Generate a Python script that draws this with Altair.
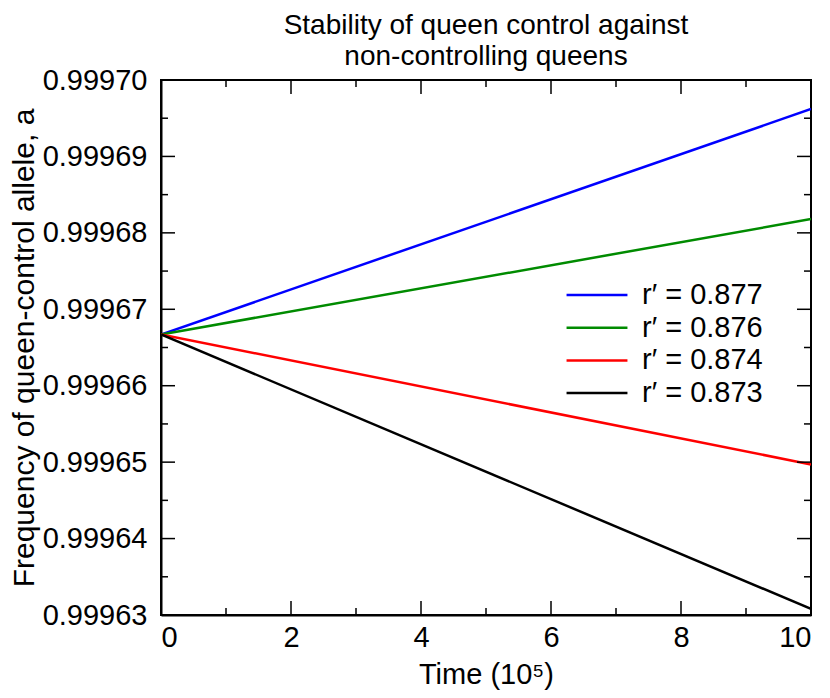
import altair as alt
import pandas as pd

# ---- data ----
times = [0, 10]
series_names = ["r′ = 0.877", "r′ = 0.876", "r′ = 0.874", "r′ = 0.873"]
series_colors = ["#0000ff", "#008b00", "#ff0000", "#000000"]
r877 = [0.9996667, 0.9996962]
r876 = [0.9996667, 0.9996818]
r874 = [0.9996667, 0.9996497]
r873 = [0.9996667, 0.9996308]

y_major = [0.99963, 0.99964, 0.99965, 0.99966, 0.99967, 0.99968, 0.99969, 0.99970]
y_minor = [0.999635, 0.999645, 0.999655, 0.999665, 0.999675, 0.999685, 0.999695]
x_major = [0, 2, 4, 6, 8, 10]
x_minor = [1, 3, 5, 7, 9]

rows = []
for name, vals in zip(series_names, [r877, r876, r874, r873]):
    for t, v in zip(times, vals):
        rows.append({"t": t, "a": v, "series": name})
df = pd.DataFrame(rows)

W, H = 650, 535
FONT = "Liberation Sans"

xscale = alt.Scale(domain=[0, 10], nice=False, zero=False)
yscale = alt.Scale(domain=[0.99963, 0.99970], nice=False, zero=False)

lines = alt.Chart(df).mark_line(strokeWidth=2.5, clip=True).encode(
    x=alt.X("t:Q", scale=xscale,
            axis=alt.Axis(values=x_major, format="d", title="Time (10⁵)",
                          labelPadding=8, titlePadding=8, titleFontSize=29)),
    y=alt.Y("a:Q", scale=yscale,
            axis=alt.Axis(values=y_major, format=".5f",
                          title="Frequency of queen-control allele, a",
                          labelPadding=14, titlePadding=3)),
    color=alt.Color("series:N",
                    scale=alt.Scale(domain=series_names, range=series_colors),
                    sort=series_names,
                    legend=alt.Legend(title=None, orient="none", legendX=420, legendY=199,
                                      symbolType="M-2.1,0H2.1", symbolSize=841,
                                      symbolStrokeWidth=2.5, labelOffset=29,
                                      labelFontSize=29, labelFont=FONT,
                                      labelColor="black", rowPadding=1.7, padding=0)),
)

ymaj_df = pd.DataFrame({"v": y_major})
ymin_df = pd.DataFrame({"v": y_minor})
xmaj_df = pd.DataFrame({"v": x_major})
xmin_df = pd.DataFrame({"v": x_minor})

def yticks(d, length):
    left = alt.Chart(d).mark_rule(color="black", strokeWidth=1.5).encode(
        y=alt.Y("v:Q", scale=yscale), x=alt.value(0), x2=alt.value(length))
    right = alt.Chart(d).mark_rule(color="black", strokeWidth=1.5).encode(
        y=alt.Y("v:Q", scale=yscale), x=alt.value(W), x2=alt.value(W - length))
    return left + right

def xticks(d, length):
    bottom = alt.Chart(d).mark_rule(color="black", strokeWidth=1.5).encode(
        x=alt.X("v:Q", scale=xscale), y=alt.value(H), y2=alt.value(H - length))
    top = alt.Chart(d).mark_rule(color="black", strokeWidth=1.5).encode(
        x=alt.X("v:Q", scale=xscale), y=alt.value(0), y2=alt.value(length))
    return bottom + top

chart = alt.layer(
    lines,
    yticks(ymaj_df, 14), yticks(ymin_df, 7),
    xticks(xmaj_df, 14), xticks(xmin_df, 7),
).properties(
    width=W, height=H,
    title=alt.TitleParams(["Stability of queen control against", "non-controlling queens"],
                          fontSize=28, fontWeight="normal", font=FONT, anchor="middle",
                          lineHeight=31, offset=-5, color="black"),
    padding={"left": 153, "top": 72, "right": 10, "bottom": 75},
    autosize=alt.AutoSizeParams(type="none"),
).configure_view(
    stroke="black", strokeWidth=2
).configure_axis(
    grid=False, ticks=False, domainColor="black", domainWidth=2,
    labelFont=FONT, labelFontSize=29, labelColor="black",
    titleFont=FONT, titleFontSize=30, titleFontWeight="normal", titleColor="black",
)

chart.save("out.html", embed_options={"renderer": "svg", "actions": False})
